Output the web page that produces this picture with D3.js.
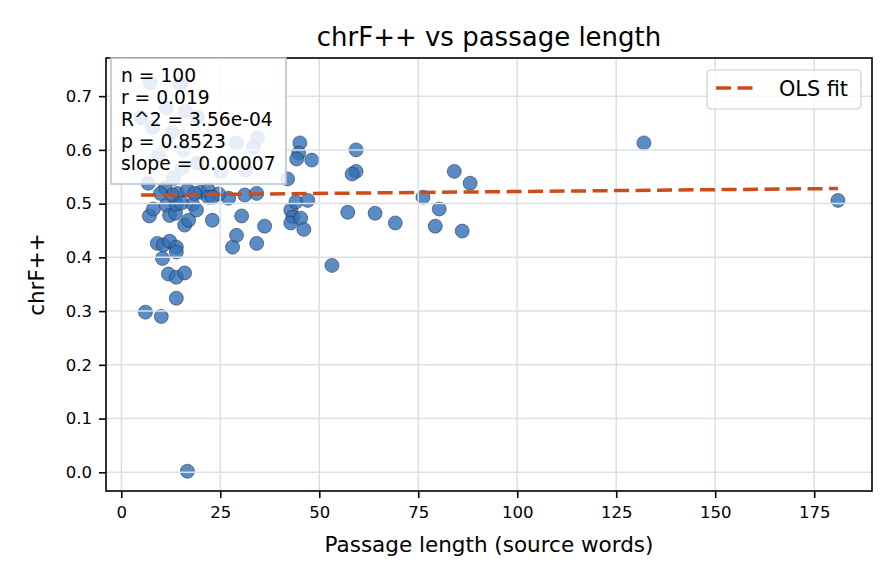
<!DOCTYPE html>
<html>
<head>
<meta charset="utf-8">
<script src="https://cdn.jsdelivr.net/npm/d3@7/dist/d3.min.js"></script>
<style>
  html, body { margin: 0; padding: 0; background: #ffffff; }
  svg { display: block; font-family: "DejaVu Sans", sans-serif; }
</style>
</head>
<body>
<svg id="chart" width="896" height="584"></svg>
<script>
// ---- data ----
const passageLength = [
  6.1, 10.1, 16.7, 13.9, 11.9, 13.9, 16.0, 9.1, 10.6, 12.2, 13.9, 13.9, 10.4,
  7.1, 8.1, 11.4, 12.2, 13.7, 13.9, 18.0, 16.0, 17.0, 23.0, 28.1, 29.1, 30.4,
  34.2, 36.2, 42.8, 43.3, 42.8, 45.3, 46.1, 44.1, 47.1, 53.2, 57.2, 64.1, 69.2,
  76.2, 80.3, 79.3, 86.1, 6.8, 11.1, 14.2, 16.7, 20.0, 22.0, 22.0, 27.1, 31.2,
  34.2, 181.0, 42.0, 84.1, 88.1, 59.3, 58.3, 45.1, 44.8, 44.3, 48.1, 59.3, 132.0,
  5.0, 7.3, 14.9, 11.4, 16.2, 19.2, 7.9, 15.4, 19.2, 13.2, 29.1, 34.4, 33.4, 31.4,
  25.1, 12.9, 9.4, 15.7, 12.9, 18.5, 24.6, 9.9, 23.0, 15.2, 19.0
];
const chrfScore = [
  0.298, 0.290, 0.002, 0.324, 0.369, 0.363, 0.371, 0.426, 0.423, 0.430, 0.419, 0.410, 0.398,
  0.477, 0.490, 0.497, 0.478, 0.482, 0.499, 0.499, 0.460, 0.469, 0.469, 0.419, 0.441, 0.477,
  0.426, 0.458, 0.488, 0.475, 0.464, 0.473, 0.452, 0.503, 0.506, 0.385, 0.484, 0.482, 0.464,
  0.512, 0.490, 0.458, 0.449, 0.538, 0.529, 0.519, 0.525, 0.521, 0.525, 0.512, 0.510, 0.516,
  0.519, 0.506, 0.546, 0.560, 0.538, 0.560, 0.555, 0.613, 0.594, 0.583, 0.581, 0.600, 0.613,
  0.660, 0.725, 0.722, 0.678, 0.672, 0.661, 0.642, 0.566, 0.575, 0.547, 0.613, 0.622, 0.605, 0.562,
  0.559, 0.633, 0.590, 0.600, 0.516, 0.519, 0.518, 0.519, 0.512, 0.501, 0.488
];
const fitSlope = 0.00007;
const fitIntercept = 0.5155;
const xTicks = [0, 25, 50, 75, 100, 125, 150, 175];
const yTicks = [0.0, 0.1, 0.2, 0.3, 0.4, 0.5, 0.6, 0.7];
const statsLines = ["n = 100", "r = 0.019", "R^2 = 3.56e-04", "p = 0.8523", "slope = 0.00007"];
const titleText = "chrF++ vs passage length";
const xLabel = "Passage length (source words)";
const yLabel = "chrF++";
const legendLabel = "OLS fit";

// ---- layout ----
const m = { left: 106, right: 872, top: 58, bottom: 491 };
const svg = d3.select("#chart");

const x = d3.scaleLinear().domain([-3.86, 189.6]).range([m.left, m.right]);
const y = d3.scaleLinear().domain([-0.0348, 0.771]).range([m.bottom, m.top]);

const points = passageLength.map((v, i) => ({ x: v, y: chrfScore[i] }));

svg.append("defs").append("clipPath").attr("id", "plotclip")
  .append("rect").attr("x", m.left).attr("y", m.top)
  .attr("width", m.right - m.left).attr("height", m.bottom - m.top);

const plot = svg.append("g").attr("clip-path", "url(#plotclip)");

// scatter
plot.append("g").selectAll("circle").data(points).join("circle")
  .attr("cx", d => x(d.x)).attr("cy", d => y(d.y)).attr("r", 7)
  .attr("fill", "#336fb6").attr("fill-opacity", 0.8)
  .attr("stroke", "#1e2a38").attr("stroke-opacity", 0.85).attr("stroke-width", 0.6);

// grid (drawn above points, like matplotlib)
const grid = plot.append("g");
grid.selectAll("line.gx").data(xTicks).join("line")
  .attr("x1", d => x(d)).attr("x2", d => x(d))
  .attr("y1", m.top).attr("y2", m.bottom)
  .attr("stroke", "#d9e0ea").attr("stroke-width", 1.5);
grid.selectAll("line.gy").data(yTicks).join("line")
  .attr("y1", d => y(d)).attr("y2", d => y(d))
  .attr("x1", m.left).attr("x2", m.right)
  .attr("stroke", "#d9e0ea").attr("stroke-width", 1.5);

// OLS line
const xMin = d3.min(passageLength), xMax = d3.max(passageLength);
const fitData = [xMin, xMax].map(v => ({ x: v, y: fitIntercept + fitSlope * v }));
plot.append("path").datum(fitData)
  .attr("d", d3.line().x(d => x(d.x)).y(d => y(d.y)))
  .attr("fill", "none").attr("stroke", "#cc4c1a").attr("stroke-width", 3.5)
  .attr("stroke-dasharray", "15,6.5");

// axes
const xAxis = d3.axisBottom(x).tickValues(xTicks).tickFormat(d3.format("d")).tickSize(7).tickPadding(8);
const yAxis = d3.axisLeft(y).tickValues(yTicks).tickFormat(d3.format(".1f")).tickSize(7).tickPadding(7);
const gx = svg.append("g").attr("transform", `translate(0,${m.bottom})`).call(xAxis);
const gy = svg.append("g").attr("transform", `translate(${m.left},0)`).call(yAxis);
[gx, gy].forEach(g => {
  g.select(".domain").remove();
  g.selectAll("line").attr("stroke", "#000").attr("stroke-width", 1.6);
  g.selectAll("text").attr("font-size", 16.5).attr("fill", "#000").attr("font-family", "DejaVu Sans");
});

// spines
svg.append("rect").attr("x", m.left).attr("y", m.top)
  .attr("width", m.right - m.left).attr("height", m.bottom - m.top)
  .attr("fill", "none").attr("stroke", "#000").attr("stroke-width", 1.6);

// title and labels
svg.append("text").attr("x", (m.left + m.right) / 2).attr("y", 46)
  .attr("text-anchor", "middle").attr("font-size", 26).text(titleText);
svg.append("text").attr("x", (m.left + m.right) / 2).attr("y", 552)
  .attr("text-anchor", "middle").attr("font-size", 21.5).text(xLabel);
svg.append("text").attr("transform", `translate(44,${(m.top + m.bottom) / 2}) rotate(-90)`)
  .attr("text-anchor", "middle").attr("font-size", 21.5).text(yLabel);

// stats box
const sb = svg.append("g");
sb.append("rect").attr("x", 111).attr("y", 58).attr("width", 175).attr("height", 126)
  .attr("fill", "#ffffff").attr("fill-opacity", 0.85)
  .attr("stroke", "#b8c4d4").attr("stroke-width", 1.6);
sb.selectAll("text").data(statsLines).join("text")
  .attr("x", 121).attr("y", (d, i) => 82 + i * 22)
  .attr("font-size", 18.7).text(d => d);

// legend
const lg = svg.append("g");
lg.append("rect").attr("x", 707).attr("y", 70).attr("width", 154).attr("height", 39)
  .attr("rx", 4).attr("fill", "#ffffff").attr("fill-opacity", 0.8)
  .attr("stroke", "#cccccc").attr("stroke-width", 1.2);
lg.append("line").attr("x1", 716).attr("x2", 753).attr("y1", 88).attr("y2", 88)
  .attr("stroke", "#cc4c1a").attr("stroke-width", 3.5).attr("stroke-dasharray", "15,6.5");
lg.append("text").attr("x", 779).attr("y", 96).attr("font-size", 20.8).text(legendLabel);
</script>
</body>
</html>
